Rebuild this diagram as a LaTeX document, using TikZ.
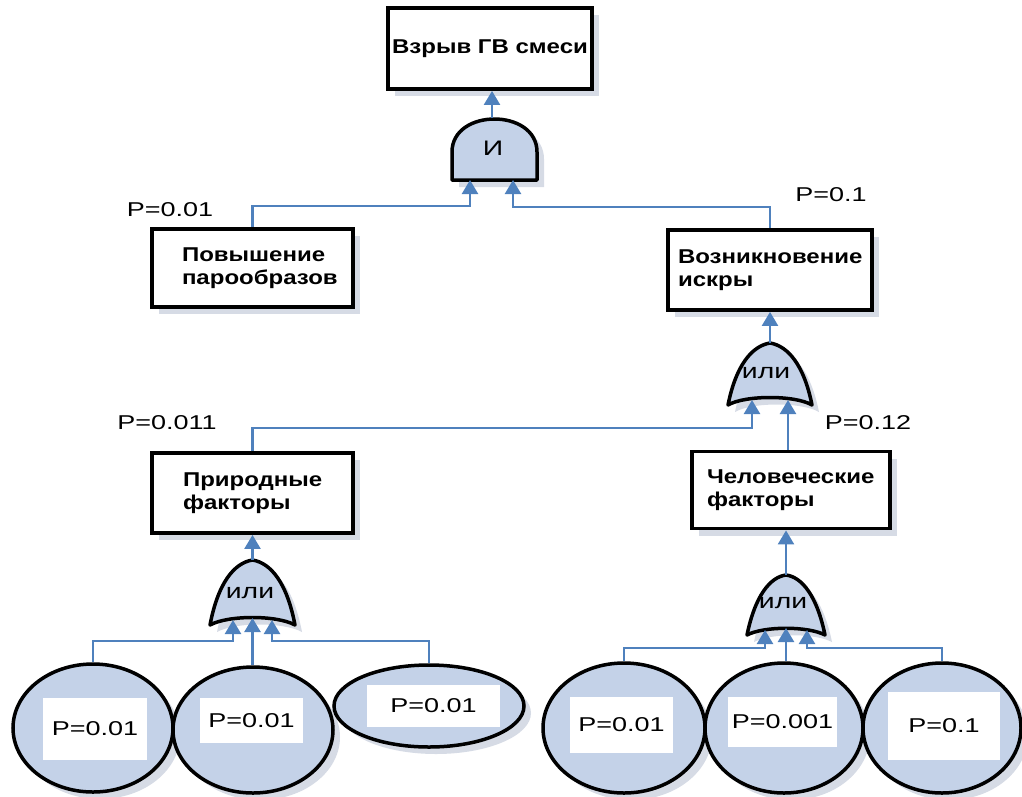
\documentclass[tikz,border=0pt]{standalone}
\usepackage{fontspec}
\setmainfont{Liberation Sans}[FakeStretch=1.35]
\newfontfamily\boxfont{Liberation Sans}[FakeStretch=1.2]
\usetikzlibrary{shapes.geometric,arrows.meta,shadows}
\definecolor{gfill}{RGB}{196,210,232}
\definecolor{connc}{RGB}{79,129,189}
\definecolor{shad}{RGB}{214,219,229}
\tikzset{
  shd/.style={drop shadow={shadow xshift=7pt,shadow yshift=-7pt,fill=shad,opacity=1}},
  box/.style={draw=black, line width=3.8pt, fill=white, shd, inner sep=0pt,
    font=\boxfont\bfseries\fontsize{20}{23}\selectfont},
  ev/.style={ellipse, draw=black, line width=3.5pt, fill=gfill, inner sep=0pt, shd},
  pbox/.style={fill=white, inner sep=0pt, font=\fontsize{20}{22}\selectfont},
  lbl/.style={inner sep=0pt, font=\fontsize{20}{22}\selectfont},
  glbl/.style={inner sep=0pt, font=\fontsize{21}{22}\selectfont},
  gate/.style={draw=black, line width=3.5pt, fill=gfill, line join=round, shd},
  cn/.style={draw=connc, line width=2.4pt},
  ar/.style={cn, -{Triangle[width=16pt,length=14pt]}}
}
\begin{document}
\begin{tikzpicture}[x=1pt,y=-1pt]
\useasboundingbox (0,0) rectangle (1022,796);

% boxes
\node[box, minimum width=204pt, minimum height=81pt] (top) at (490,48.5) {Взрыв ГВ смеси};
\node[box, minimum width=201pt, minimum height=78pt, text width=141pt, align=left] (pov) at (252.5,268) {Повышение\\парообразов};
\node[box, minimum width=204pt, minimum height=80pt, text width=184pt, align=left] (voz) at (770,270) {Возникновение\\искры};
\node[box, minimum width=201pt, minimum height=80pt, text width=139pt, align=left] (prir) at (252.5,493) {Природные\\факторы};
\node[box, minimum width=198pt, minimum height=77pt, text width=168pt, align=left] (chel) at (791,490) {Человеческие\\факторы};

% gates
\draw[gate] (452,180) -- (452,152) .. controls (452,108) and (537,108) .. (537,152) -- (537,180) -- cycle;
\node[glbl] (andl) at (493,148) {И};
\coordinate (andout) at (492,118);
\coordinate (andin1) at (470,180);
\coordinate (andin2) at (513,180);

\draw[gate] (728,405) .. controls (736,365) and (752,346) .. (770,343) .. controls (788,346) and (804,365) .. (812,405) .. controls (795,395) and (745,395) .. (728,405) -- cycle;
\node[glbl] (or1l) at (766,373) {или};
\coordinate (or1out) at (770,343);
\coordinate (or1in1) at (752,400);
\coordinate (or1in2) at (788,400);

\draw[gate] (210,625) .. controls (218,583) and (234,563) .. (252.5,560) .. controls (271,563) and (287,583) .. (295,625) .. controls (277,615) and (228,615) .. (210,625) -- cycle;
\node[glbl] (or2l) at (250,593) {или};
\coordinate (or2out) at (252.5,560);
\coordinate (or2in1) at (233,620);
\coordinate (or2in2) at (252.5,618);
\coordinate (or2in3) at (272,620);

\draw[gate] (747,635) .. controls (755,596) and (770,577) .. (786,575) .. controls (802,577) and (817,596) .. (825,635) .. controls (808,626) and (764,626) .. (747,635) -- cycle;
\node[glbl] (or3l) at (783,603) {или};
\coordinate (or3out) at (786,575);
\coordinate (or3in1) at (765,630);
\coordinate (or3in2) at (786,628);
\coordinate (or3in3) at (807,630);

% basic events
\node[ev, minimum width=160pt, minimum height=128pt] (e1) at (93,728) {};
\node[ev, minimum width=160pt, minimum height=126pt] (e2) at (253,730) {};
\node[ev, minimum width=190pt, minimum height=82pt] (e3) at (429,706) {};
\node[ev, minimum width=162pt, minimum height=130pt] (e4) at (624,728) {};
\node[ev, minimum width=158pt, minimum height=130pt] (e5) at (784,728) {};
\node[ev, minimum width=158pt, minimum height=130pt] (e6) at (942,728) {};

\node[pbox, minimum width=104pt, minimum height=62pt] (t1) at (95,729) {P=0.01};
\node[pbox, minimum width=103pt, minimum height=45pt] (t2) at (251.5,720.5) {P=0.01};
\node[pbox, minimum width=133pt, minimum height=42pt] (t3) at (433.5,706) {P=0.01};
\node[pbox, minimum width=103pt, minimum height=56pt] (t4) at (621.5,725) {P=0.01};
\node[pbox, minimum width=109pt, minimum height=50pt] (t5) at (782.5,722) {P=0.001};
\node[pbox, minimum width=112pt, minimum height=68pt] (t6) at (944,726) {P=0.1};

% probability labels
\node[lbl] (p1) at (170,210) {P=0.01};
\node[lbl] (p2) at (831,195) {P=0.1};
\node[lbl] (p3) at (167,423) {P=0.011};
\node[lbl] (p4) at (868,423) {P=0.12};

% connectors
\draw[ar] (andout) -- (andout |- top.south);
\draw[ar] (pov.north) -- ++(0,-21) -| (andin1);
\draw[ar] (voz.north) -- ++(0,-21) -| (andin2);
\draw[ar] (or1out) -- (or1out |- voz.south);
\draw[ar] (prir.north) -- ++(0,-23) -| (or1in1);
\draw[ar] (or1in2 |- chel.north) -- (or1in2);
\draw[ar] (or2out) -- (or2out |- prir.south);
\draw[ar] (or3out) -- (or3out |- chel.south);
\draw[ar] (e1.north) -- ++(0,-21) -| (or2in1);
\draw[ar] (or2in2 |- e2.north) -- (or2in2);
\draw[ar] (e3.north) -- ++(0,-22) -| (or2in3);
\draw[ar] (e4.north) -- ++(0,-13) -| (or3in1);
\draw[ar] (or3in2 |- e5.north) -- (or3in2);
\draw[ar] (e6.north) -- ++(0,-13) -| (or3in3);
\end{tikzpicture}
\end{document}
